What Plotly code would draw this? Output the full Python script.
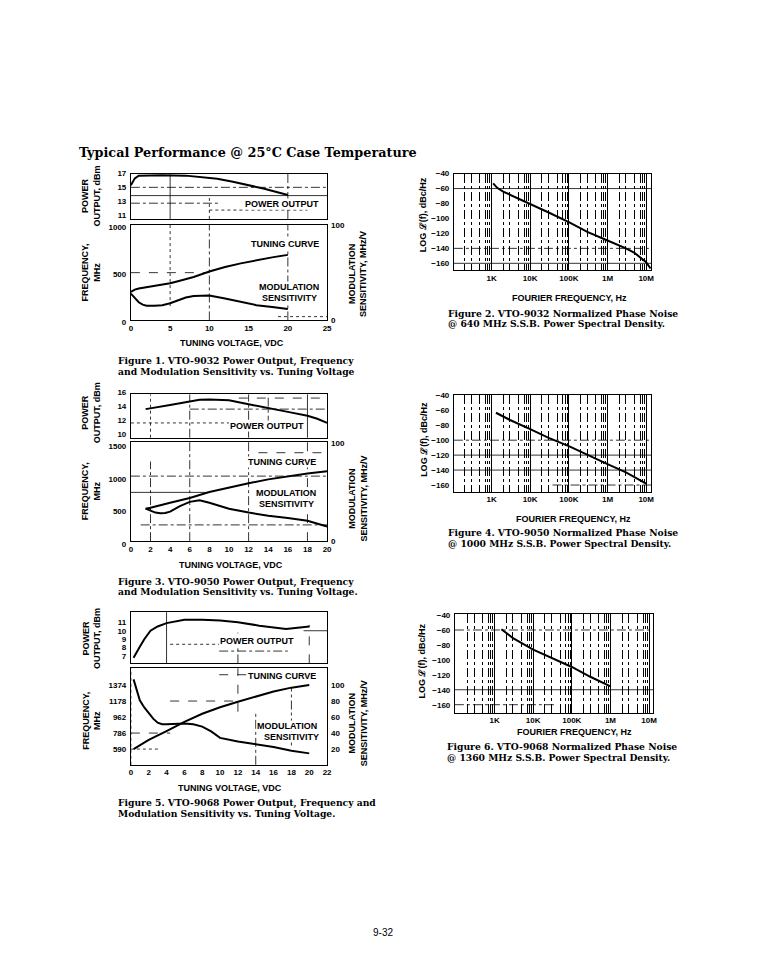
import plotly.graph_objects as go

# page geometry: the browser body adds an 8 px margin, so the figure is drawn 8 px in
W, H = 784, 973
OFF = 8
FW, FH = W - 2 * OFF, H - 2 * OFF - 1

# ---------------- data ----------------
# Figure 1 (VTO-9032)
f1_pow_v = [0, 0.5, 1, 2, 4, 7, 9, 11, 13, 15, 17, 20]
f1_pow = [15.6, 16.6, 17.0, 17.05, 17.05, 17.0, 16.8, 16.55, 16.1, 15.6, 15.1, 14.2]
f1_tun_v = [0, 0.5, 1, 2, 4, 5, 6, 8, 10, 12, 14, 16, 18, 20]
f1_tun = [300, 322, 335, 348, 370, 389, 410, 455, 512, 560, 597, 630, 660, 686]
f1_mod_v = [0, 0.5, 1, 1.5, 2, 3, 4, 5, 6, 7, 8, 10, 12, 14, 16, 18, 20]
f1_mod = [28, 23, 19, 16.5, 15.5, 15.5, 16, 18, 21, 24, 25.5, 26, 23, 19.5, 16, 14, 12]

# Figure 3 (VTO-9050)
f3_pow_v = [1.5, 2, 4, 6, 7, 8, 9, 10, 12, 14, 16, 18, 19, 20]
f3_pow = [14.0, 14.1, 14.6, 15.1, 15.35, 15.4, 15.4, 15.3, 14.7, 14.1, 13.6, 13.05, 12.6, 12.0]
f3_tun_v = [1.5, 2, 4, 6, 8, 10, 12, 14, 16, 18, 20]
f3_tun = [500, 515, 590, 665, 755, 825, 890, 950, 1000, 1040, 1075]
f3_mod_v = [1.5, 2, 2.5, 3, 3.5, 4, 5, 6, 7, 8, 10, 12, 14, 16, 18, 20]
f3_mod = [33.3, 31, 29.3, 28.7, 28.9, 30.3, 36, 40.3, 42, 39.3, 33.3, 29.3, 26, 23.7, 21, 15]

# Figure 5 (VTO-9068)
f5_pow_v = [0.3, 0.6, 1, 1.5, 2.2, 3, 4, 6, 8, 10, 12, 14.4, 16, 17.4, 20]
f5_pow = [6.8, 7.4, 8.1, 9.0, 10.0, 10.5, 10.9, 11.3, 11.3, 11.2, 11.0, 10.6, 10.35, 10.2, 10.5]
f5_tun_v = [0.3, 2, 4, 6, 8, 10, 12, 14, 16, 18, 20]
f5_tun = [590, 702, 810, 922, 1022, 1102, 1170, 1234, 1294, 1342, 1374]
f5_mod_v = [0.3, 0.6, 1, 1.5, 2, 2.5, 3, 3.5, 4, 5, 6, 7, 8, 9, 10, 12, 14, 16, 18, 20]
f5_mod = [107, 95, 81, 72, 65, 58, 53, 51, 51, 51.5, 52, 51, 48, 42, 34, 29.5, 26, 22.5, 18, 14.6]
f5_freq_ticks = [590, 786, 982, 1178, 1374]
f5_freq_text = ["590", "786", "962", "1178", "1374"]

# Phase noise figures
f2_f = [1.1e3, 1.4e3, 2e3, 4e3, 1e4, 3e4, 1e5, 3e5, 1e6, 3e6, 5e6, 1e7, 1.3e7]
f2_L = [-53, -59, -64, -71, -80, -92, -105, -118, -129.5, -140, -146, -158.5, -167]
f4_f = [1.3e3, 3e3, 1e4, 3e4, 1e5, 2.3e5, 1e6, 3e6, 1e7]
f4_L = [-63.3, -73, -85.3, -97, -108, -117, -132, -143, -158]
f6_f = [1.5e3, 3e3, 1e4, 3e4, 1e5, 3e5, 1e6]
f6_L = [-59, -70.8, -86.2, -97, -109.5, -122.6, -135.4]

freq_tickvals = [1e3, 1e4, 1e5, 1e6, 1e7]
freq_ticktext = ["1K", "10K", "100K", "1M", "10M"]
pn_ticks = [-40, -60, -80, -100, -120, -140, -160]

# ---------------- helpers ----------------
SANS = "Liberation Sans, Arial, sans-serif"
SERIF = "DejaVu Serif, serif"
TICKFONT = dict(family=SANS, size=8, color="black", weight="bold")


def fx(p):
    return (p - OFF) / FW


def fy(p):
    return 1 - (p - OFF) / FH


def dx(a, b):
    return [fx(a), fx(b)]


def dy(top, bottom):
    return [fy(bottom), fy(top)]


def xaxis(dom, rng, anchor, tickvals=None, ticktext=None, labels=True, typ="linear"):
    d = dict(domain=dx(*dom), range=rng, anchor=anchor, type=typ, showgrid=False,
             zeroline=False, showline=True, linecolor="black", linewidth=1, mirror=True,
             ticks="", tickfont=TICKFONT, fixedrange=True, showticklabels=labels)
    if tickvals is not None:
        d.update(tickmode="array", tickvals=tickvals)
        if ticktext is not None:
            d["ticktext"] = ticktext
    return d


def yaxis(dom, rng, anchor, tickvals, ticktext=None, shift=0):
    # shift: pixels, positive moves the labels down on screen
    d = dict(domain=dy(*dom), range=rng, anchor=anchor, showgrid=False, zeroline=False,
             showline=True, linecolor="black", linewidth=1, mirror=True, ticks="",
             tickfont=TICKFONT, fixedrange=True, tickmode="array", tickvals=tickvals,
             ticklabelshift=shift, ticklabelstandoff=2)
    if ticktext is not None:
        d["ticktext"] = ticktext
    return d


def right_axis(over, anchor, rng, tickvals):
    return dict(overlaying=over, side="right", anchor=anchor, range=rng, showgrid=False,
                zeroline=False, showline=False, ticks="", tickfont=TICKFONT,
                fixedrange=True, tickmode="array", tickvals=tickvals, ticklabelstandoff=3)


shapes = []
annotations = []


def vline(xa, ya, x, dash="dashdot", y0=0, y1=1, width=0.8):
    shapes.append(dict(type="line", xref=xa, yref=ya + " domain", x0=x, x1=x, y0=y0, y1=y1,
                       layer="below", line=dict(color="black", width=width, dash=dash)))


def hline(xa, ya, y, dash="dashdot", x0=0, x1=1, width=0.8):
    shapes.append(dict(type="line", xref=xa + " domain", yref=ya, x0=x0, x1=x1, y0=y, y1=y,
                       layer="below", line=dict(color="black", width=width, dash=dash)))


def text(s, px, py, size=9, family=SANS, weight="bold", angle=0, xanchor="center", bg=None):
    a = dict(text=s, x=fx(px), y=fy(py), xref="paper", yref="paper",
             showarrow=False, xanchor=xanchor, yanchor="middle", textangle=angle,
             align="center", borderpad=0,
             font=dict(family=family, size=size, color="black", weight=weight))
    if bg:
        a["bgcolor"] = bg
    annotations.append(a)


def label(s, px, py):
    text(s, px, py, size=9, bg="white")


def caption(s, px, py):
    text(s, px, py, size=9.2, family=SERIF, xanchor="left")


fig = go.Figure()


def curve(x, y, xa, ya):
    fig.add_trace(go.Scatter(x=x, y=y, xaxis=xa, yaxis=ya, mode="lines",
                             line=dict(color="black", width=2), hoverinfo="skip"))


L_, R_ = 130, 328
lay = dict(width=FW, height=FH, margin=dict(l=0, r=0, t=0, b=0), paper_bgcolor="white",
           plot_bgcolor="rgba(0,0,0,0)", showlegend=False)

# ---- Figure 1 ----
lay["xaxis"] = xaxis((L_, R_), [0, 25], "y", labels=False)
lay["yaxis"] = yaxis((170, 216), [10.71, 17.29], "x", [11, 13, 15, 17], shift=-2)
lay["xaxis2"] = xaxis((L_, R_), [0, 25], "y2", [0, 5, 10, 15, 20, 25])
lay["yaxis2"] = yaxis((222, 319), [0, 1000], "x2", [0, 500, 1000], shift=2)
lay["yaxis3"] = right_axis("y2", "x2", [0, 100], [0, 100])
curve(f1_pow_v, f1_pow, "x", "y")
curve(f1_tun_v, f1_tun, "x2", "y2")
curve(f1_mod_v, f1_mod, "x2", "y3")
vline("x", "y", 5, "solid")
vline("x", "y", 10, "dot", 0, 0.5)
vline("x", "y", 20, "dashdot")
hline("x", "y", 15.3, "dashdot")
hline("x", "y", 14.1, "solid")
hline("x", "y", 13, "dashdot", 0, 0.45)
hline("x", "y", 12, "dot", 0.4, 0.9)
vline("x2", "y2", 5, "dot", 0.15, 1)
vline("x2", "y2", 10, "dashdot")
vline("x2", "y2", 20, "dashdot")
hline("x2", "y2", 500, "dash", 0, 0.4)
hline("x2", "y2", 40, "dot", 0.75, 1)
label("POWER OUTPUT", 283, 201)
label("TUNING CURVE", 286, 241)
label("MODULATION", 290, 285)
label("SENSITIVITY", 290, 296)
text("POWER<br>OUTPUT, dBm", 90, 193, angle=-90)
text("FREQUENCY,<br>MHz", 90, 270, angle=-90)
text("MODULATION<br>SENSITIVITY, MHz/V", 359, 272, angle=-90)
text("TUNING VOLTAGE, VDC", 232, 342)
caption("Figure 1. VTO-9032 Power Output, Frequency", 116, 359.5)
caption("and Modulation Sensitivity vs. Tuning Voltage", 116, 370.5)

# ---- Figure 3 ----
lay["xaxis3"] = xaxis((L_, R_), [0, 20], "y4", labels=False)
lay["yaxis4"] = yaxis((394, 438), [9.86, 16.14], "x3", [10, 12, 14, 16], shift=-3)
lay["xaxis4"] = xaxis((L_, R_), [0, 20], "y5", list(range(0, 21, 2)))
lay["yaxis5"] = yaxis((442, 543), [0, 1530], "x4", [0, 500, 1000, 1500], shift=3)
lay["yaxis6"] = right_axis("y5", "x4", [0, 102], [0, 100])
curve(f3_pow_v, f3_pow, "x3", "y4")
curve(f3_tun_v, f3_tun, "x4", "y5")
curve(f3_mod_v, f3_mod, "x4", "y6")
vline("x3", "y4", 2, "dot")
vline("x3", "y4", 6, "dashdot")
vline("x3", "y4", 12, "dashdot")
vline("x3", "y4", 14, "dashdot", 0.3, 1)
vline("x3", "y4", 18, "solid")
hline("x3", "y4", 15.6, "dash", 0.55, 1)
hline("x3", "y4", 14, "dashdot", 0.3, 1)
hline("x3", "y4", 12, "dot", 0, 0.5)
vline("x4", "y5", 2, "dashdot", 0, 0.8)
vline("x4", "y5", 6, "dashdot")
vline("x4", "y5", 12, "dashdot")
vline("x4", "y5", 18, "dash")
hline("x4", "y5", 1360, "dash", 0.65, 1)
hline("x4", "y5", 1000, "dashdot")
hline("x4", "y5", 750, "solid", 0, 0.4)
hline("x4", "y5", 250, "dashdot", 0.05, 1)
label("POWER OUTPUT", 267, 426)
label("TUNING CURVE", 283, 463)
label("MODULATION", 287, 494)
label("SENSITIVITY", 287, 505)
text("POWER<br>OUTPUT, dBm", 90, 413, angle=-90)
text("FREQUENCY,<br>MHz", 90, 492, angle=-90)
text("MODULATION<br>SENSITIVITY, MHz/V", 359, 500, angle=-90)
text("TUNING VOLTAGE, VDC", 231, 567)
caption("Figure 3. VTO-9050 Power Output, Frequency", 116, 583.5)
caption("and Modulation Sensitivity vs. Tuning Voltage.", 116, 594.5)

# ---- Figure 5 ----
lay["xaxis5"] = xaxis((L_, R_), [0, 22], "y7", labels=False)
lay["yaxis7"] = yaxis((615, 667), [6.15, 12.2], "x5", [7, 8, 9, 10, 11])
lay["xaxis6"] = xaxis((L_, R_), [0, 22], "y8", list(range(0, 23, 2)))
lay["yaxis8"] = yaxis((672, 770), [397, 1579], "x6", f5_freq_ticks, f5_freq_text)
lay["yaxis9"] = right_axis("y8", "x6", [0.3, 120.9], [20, 40, 60, 80, 100])
curve(f5_pow_v, f5_pow, "x5", "y7")
curve(f5_tun_v, f5_tun, "x6", "y8")
curve(f5_mod_v, f5_mod, "x6", "y9")
vline("x5", "y7", 4, "solid")
vline("x5", "y7", 12, "dashdot", 0, 0.6)
vline("x5", "y7", 20, "dash", 0, 0.75)
hline("x5", "y7", 10, "solid", 0.88, 1)
hline("x5", "y7", 8.4, "dot", 0.2, 0.45)
hline("x5", "y7", 7.6, "dashdot", 0.45, 0.8)
vline("x6", "y8", 12, "dash", 0.55, 1)
vline("x6", "y8", 14, "dashdot", 0, 0.55)
vline("x6", "y8", 18, "dashdot", 0.2, 0.8)
vline("x6", "y8", 0, "dot")
hline("x6", "y8", 1178, "dash", 0.2, 0.55)
hline("x6", "y8", 786, "dash", 0, 0.2)
hline("x6", "y8", 590, "dot", 0, 0.15)
hline("x6", "y8", 1500, "dash", 0.45, 0.8)
label("POWER OUTPUT", 257, 644)
label("TUNING CURVE", 283, 680)
label("MODULATION", 288, 731)
label("SENSITIVITY", 292, 742)
text("POWER<br>OUTPUT, dBm", 90, 642, angle=-90)
text("FREQUENCY,<br>MHz", 90, 725, angle=-90)
text("MODULATION<br>SENSITIVITY, MHz/V", 360, 728, angle=-90)
text("TUNING VOLTAGE, VDC", 230, 793)
caption("Figure 5. VTO-9068 Power Output, Frequency and", 116, 808.5)
caption("Modulation Sensitivity vs. Tuning Voltage.", 116, 819.5)


# ---- Phase noise figures ----
minor_vals = [k * 10 ** d for d in range(2, 8) for k in (2, 3, 5, 7, 8, 9)]


def pn_panel(xname, yname, xdom, ydom, xr, yr, f, L):
    xa = xaxis(xdom, xr, yname.replace("axis", ""), freq_tickvals, freq_ticktext, typ="log")
    xa.update(showgrid=True, gridcolor="black", gridwidth=1,
              minor=dict(tickmode="array", tickvals=minor_vals, showgrid=True,
                         gridcolor="black", gridwidth=0.6, griddash="dashdot", ticks=""))
    lay[xname] = xa
    lay[yname] = yaxis(ydom, yr, xname.replace("axis", ""), pn_ticks)
    curve(f, L, xname.replace("axis", ""), yname.replace("axis", ""))


pn_panel("xaxis7", "yaxis10", (456, 655), (170, 268), [2.026, 7.128], [-169.2, -40], f2_f, f2_L)
pn_panel("xaxis8", "yaxis11", (456, 655), (395, 493), [2.026, 7.128], [-169.2, -40], f4_f, f4_L)
pn_panel("xaxis9", "yaxis12", (457, 657), (617, 717), [1.974, 7.103], [-170.6, -38.7], f6_f, f6_L)

hline("x7", "y10", -60, "solid")
hline("x7", "y10", -140, "dashdot")
hline("x7", "y10", -160, "solid")
hline("x8", "y11", -100, "dashdot")
hline("x8", "y11", -120, "solid")
hline("x8", "y11", -140, "solid")
hline("x8", "y11", -160, "dashdot", 0.5, 1)
hline("x9", "y12", -60, "dashdot")
hline("x9", "y12", -140, "solid")
hline("x9", "y12", -160, "dashdot", 0, 0.5)

text("LOG ℒ(f), dBc/Hz", 425, 212, angle=-90)
text("FOURIER FREQUENCY, Hz", 573, 296)
caption("Figure 2. VTO-9032 Normalized Phase Noise", 449, 311.5)
caption("@ 640 MHz S.S.B. Power Spectral Density.", 449, 322.5)

text("LOG ℒ(f), dBc/Hz", 425, 440, angle=-90)
text("FOURIER FREQUENCY, Hz", 577, 520)
caption("Figure 4. VTO-9050 Normalized Phase Noise", 449, 534.5)
caption("@ 1000 MHz S.S.B. Power Spectral Density.", 449, 545.5)

text("LOG ℒ(f), dBc/Hz", 424, 665, angle=-90)
text("FOURIER FREQUENCY, Hz", 578, 737)
caption("Figure 6. VTO-9068 Normalized Phase Noise", 448, 751.5)
caption("@ 1360 MHz S.S.B. Power Spectral Density.", 448, 762.5)

# ---- page texts ----
text("Typical Performance @ 25°C Case Temperature", 77, 149, size=12.8, family=SERIF, xanchor="left")
text("9-32", 384, 940, size=10, weight="normal")

lay["shapes"] = shapes
lay["annotations"] = annotations
fig.update_layout(**lay)
fig.write_html("out.html")
